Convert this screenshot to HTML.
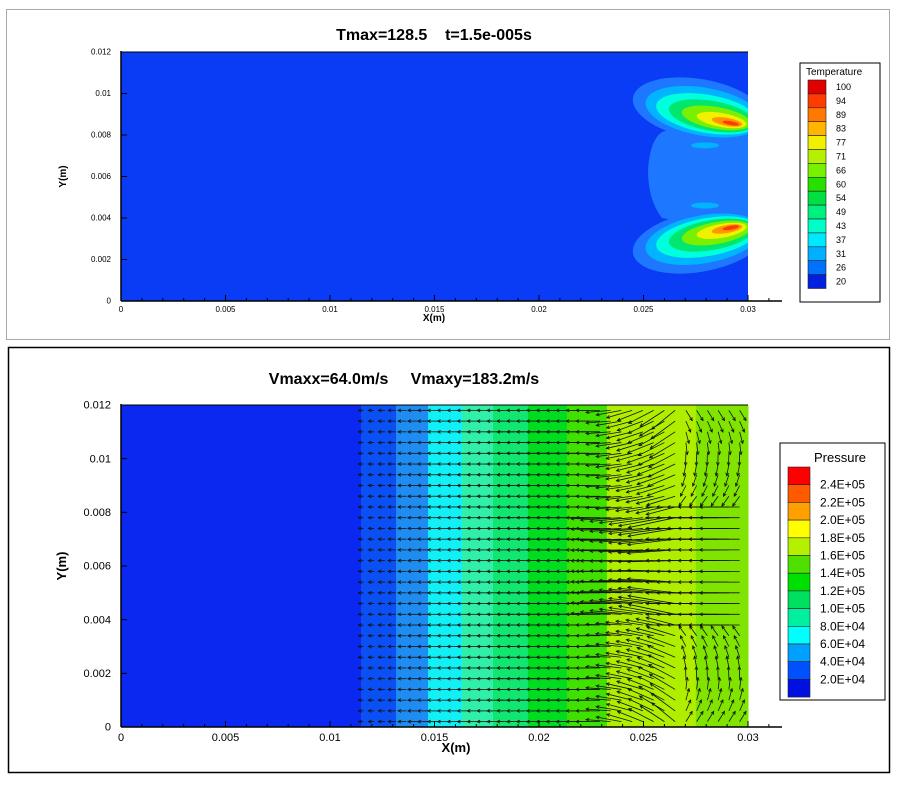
<!DOCTYPE html>
<html><head><meta charset="utf-8"><style>
body{margin:0;background:#fff;width:900px;height:781px;overflow:hidden;font-family:"Liberation Sans",sans-serif}
svg text{font-family:"Liberation Sans",sans-serif;white-space:pre}
</style></head><body>
<svg id="s" width="900" height="781" xmlns="http://www.w3.org/2000/svg">
<rect x="6.5" y="9.5" width="883" height="330" fill="#fff" stroke="#aaa"/>
<rect x="8.5" y="347.5" width="881" height="425" fill="#fff" stroke="#000" stroke-width="1.5"/>
<text x="434" y="40" font-size="16" font-weight="bold" text-anchor="middle" xml:space="preserve">Tmax=128.5    t=1.5e-005s</text>
<text x="404" y="384" font-size="16" font-weight="bold" text-anchor="middle" xml:space="preserve">Vmaxx=64.0m/s     Vmaxy=183.2m/s</text>
<g id="top"></g>
<g id="bot"></g>
</svg>
<script>
const NS='http://www.w3.org/2000/svg';
const xTicks=[0,0.005,0.01,0.015,0.02,0.025,0.03];
const xTickLabels=['0','0.005','0.01','0.015','0.02','0.025','0.03'];
const yTicks=[0,0.002,0.004,0.006,0.008,0.01,0.012];
const yTickLabels=['0','0.002','0.004','0.006','0.008','0.01','0.012'];
const tempLevels=['100','94','89','83','77','71','66','60','54','49','43','37','31','26','20'];
const tempColors=['#e00000','#ff3c00','#ff7800','#ffb400','#f0f000','#b4f000','#78f000','#28e000','#00e040','#00f080','#00ffc8','#00e8ff','#00b0ff','#0070ff','#0020e0'];
const presLevels=['2.4E+05','2.2E+05','2.0E+05','1.8E+05','1.6E+05','1.4E+05','1.2E+05','1.0E+05','8.0E+04','6.0E+04','4.0E+04','2.0E+04'];
const presColors=['#ff0000','#ff5a00','#ffa000','#ffff00','#b4f000','#50e000','#00e000','#00e060','#00f0a0','#00ffff','#00a0ff','#0050ff','#0010e0'];
// pressure bands: x start (m) and color
const presBandX=[0,0.01148,0.01316,0.01469,0.01632,0.0178,0.01947,0.02134,0.02325,0.0275];
const presBandC=['#0a28f0','#0a50f5','#1e8cf0','#10f0f5','#30f0a8','#10e670','#00dc20','#40e000','#b0ee00','#80e400'];
const vecCols=36, vecRows=30;

function el(p,t,a){const e=document.createElementNS(NS,t);for(const k in a)e.setAttribute(k,a[k]);p.appendChild(e);return e;}
function axes(g,top,bot,fs,lx,ly,tOff){
  const L=121,R=748;
  const sx=v=>L+v/0.03*(R-L), sy=v=>bot-v/0.012*(bot-top);
  return {sx,sy,draw(){
    const ax=el(g,'g',{});
    el(ax,'line',{x1:L,y1:bot,x2:782,y2:bot,stroke:'#000','stroke-width':1.5});
    el(ax,'line',{x1:L,y1:top-1,x2:L,y2:bot,stroke:'#000','stroke-width':1.5});
    el(ax,'line',{x1:L,y1:top,x2:R,y2:top,stroke:'#000'});
    xTicks.forEach((v,i)=>{const x=sx(v);el(ax,'line',{x1:x,y1:bot,x2:x,y2:bot-6,stroke:'#000'});
      const t=el(ax,'text',{x:x,y:bot+fs+3,'font-size':fs,'text-anchor':'middle'});t.textContent=xTickLabels[i];
      });
    for(let k=1;k<=31;k++){const x=sx(k*0.001);if(x>782)break;el(ax,'line',{x1:x,y1:bot,x2:x,y2:bot-3,stroke:'#000'});}
    yTicks.forEach((v,i)=>{const y=sy(v);el(ax,'line',{x1:L,y1:y,x2:L+6,y2:y,stroke:'#000'});
      const t=el(ax,'text',{x:L-10,y:y+fs/3,'font-size':fs,'text-anchor':'end'});t.textContent=yTickLabels[i];
      });
    const xt=el(ax,'text',{x:lx,y:bot+tOff,'font-size':fs+2,'font-weight':'bold','text-anchor':'middle'});xt.textContent='X(m)';
    
    const yt=el(ax,'text',{x:ly,y:(top+bot)/2,'font-size':fs+2,'font-weight':'bold','text-anchor':'middle',transform:`rotate(-90 ${ly} ${(top+bot)/2})`});yt.textContent='Y(m)';
    
  }};
}
function legend(g,x,y,w,h,title,levels,colors,fs,sw,sh,tx,ty){
  const lg=el(g,'g',{});
  el(lg,'rect',{x:x,y:y,width:w,height:h,fill:'#fff',stroke:'#000'});
  const t=el(lg,'text',{x:x+tx,y:y+ty,'font-size':fs+1});t.textContent=title;
  const n=colors.length;
  for(let i=0;i<n;i++){const r=el(lg,'rect',{x:x+8,y:y+ty+5+i*sh,width:sw,height:sh,fill:colors[i],stroke:'#222','stroke-width':0.6});
    }
  levels.forEach((l,i)=>{const tt=el(lg,'text',{x:x+sw+18,y:y+ty+5+(i+ (n>levels.length?1:0.5))*sh+fs/3,'font-size':fs});tt.textContent=l;
    });
}
// TOP
const tg=document.getElementById('top');
const A=axes(tg,52,301,8,434,66,20);
el(tg,'rect',{x:A.sx(0),y:A.sy(0.012),width:A.sx(0.03)-A.sx(0),height:A.sy(0)-A.sy(0.012),fill:'#0a3cf5'});
const cp=el(tg,'clipPath',{id:'cpT'});el(cp,'rect',{x:121,y:52,width:627,height:249});
const hg=el(tg,'g',{'clip-path':'url(#cpT)'});
el(hg,'path',{d:'M662 132 Q650 140 648 170 Q648 200 662 218 L700 225 L748 225 L748 120 L700 120 Z',fill:'#1e78ff'});
const spots=[[0.0085,-1],[0.0036,1]];
spots.forEach(([yv,d])=>{const cy=A.sy(yv);const cx=A.sx(0.0294);
  const layers=[[96,30,'#1e78ff'],[84,24,'#00b4ff'],[74,19,'#00ffdc'],[62,15,'#00e66e'],[50,11,'#78f000'],[36,7,'#f0f000'],[22,4,'#ff9600'],[12,2,'#ff3c00']];
  layers.forEach(([rx,ry,c],i)=>{el(hg,'ellipse',{cx:cx-rx*0.4,cy:cy+d*ry*0.3,rx:rx*0.7,ry:ry,fill:c,transform:`rotate(${d*-10} ${cx} ${cy})`});});
});
el(hg,'ellipse',{cx:705,cy:A.sy(0.0075),rx:14,ry:3,fill:'#00b4ff'});
el(hg,'ellipse',{cx:705,cy:A.sy(0.0046),rx:14,ry:3,fill:'#00b4ff'});
A.draw();
legend(tg,800,63,80,239,'Temperature',tempLevels,tempColors,9,18,13.9,6,12);
// BOTTOM
const bg=document.getElementById('bot');
const B=axes(bg,405,727,11,456,66,25);
presBandX.forEach((x0,i)=>{const x1=i+1<presBandX.length?presBandX[i+1]:0.03;
  const r=el(bg,'rect',{x:B.sx(x0),y:405,width:B.sx(x1)-B.sx(x0)+0.5,height:322,fill:presBandC[i]});
  });
const cpb=el(bg,'clipPath',{id:'cpB'});el(cpb,'rect',{x:121,y:405,width:640,height:322});
const vg=el(bg,'g',{'clip-path':'url(#cpB)',stroke:'#111','stroke-width':0.8,fill:'none'});

for(let i=0;i<vecCols;i++){const xm=0.0116+i*(0.0296-0.0116)/(vecCols-1);
  for(let j=0;j<vecRows;j++){const ym=0.0002+j*(0.0118-0.0002)/(vecRows-1);
    const x=B.sx(xm),y=B.sy(ym);
    const f=(xm-0.0116)/0.018; let dy=(ym-0.006)/0.006;
    let len=5+f*30; let ang=0;
    if(xm>0.023){ang=dy*Math.min(1,(xm-0.023)/0.004)*0.8; if(Math.abs(dy)<0.35) len*=1.6;}
    if(xm>0.027){len=Math.abs(dy)<0.4?40:12;ang=Math.abs(dy)<0.4?0:dy*2.2;}
    const ex=x-len*Math.cos(ang), ey=y-len*Math.sin(ang)*-1;
    el(vg,'line',{x1:x,y1:y,x2:ex,y2:ey});
    const a1=ang, hx=ex, hy=ey;
    el(vg,'path',{d:`M${hx+3*Math.cos(a1)-1.5*Math.sin(a1)} ${hy-3*Math.sin(a1)-1.5*Math.cos(a1)} L${hx} ${hy} L${hx+3*Math.cos(a1)+1.5*Math.sin(a1)} ${hy-3*Math.sin(a1)+1.5*Math.cos(a1)}`});
  }}
B.draw();
legend(bg,780,443,105,257,'Pressure',presLevels,presColors,12,22,17.7,34,19);
</script>
</body></html>
